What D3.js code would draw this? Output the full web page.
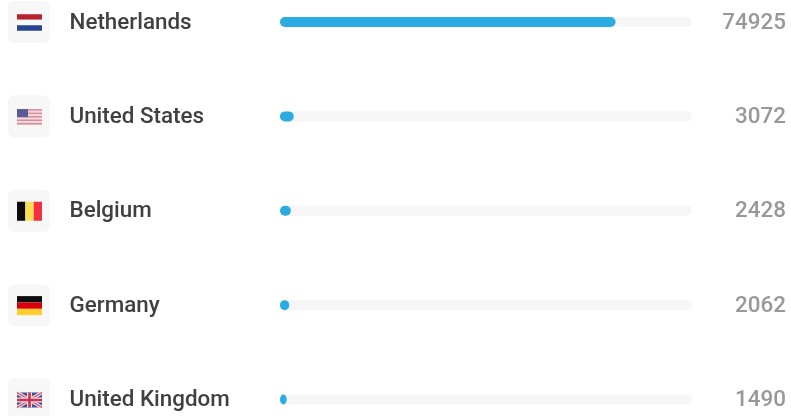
<!DOCTYPE html>
<html>
<head>
<meta charset="utf-8">
<script src="https://cdn.jsdelivr.net/npm/d3@7"></script>
<style>
html, body { margin: 0; padding: 0; background: #fff; overflow: hidden; }
text { font-family: Roboto, sans-serif; }
.country { font-size: 22.4px; font-weight: 500; fill: #404040; }
.value { font-size: 22.4px; font-weight: 500; fill: #989898; }
</style>
</head>
<body>
<script>
var countries = ["Netherlands", "United States", "Belgium", "Germany", "United Kingdom"];
var visits = [74925, 3072, 2428, 2062, 1490];
var scaleMax = 92000;

var screen2 = {width: 791, height: 416};

var svg = d3.select("body")
            .append("svg")
            .attr("width", screen2.width)
            .attr("height", screen2.height)
            .style("display", "block");

var soft = svg.append("defs").append("filter").attr("id", "soft");
soft.append("feGaussianBlur").attr("stdDeviation", 0.5);

var xScale = d3.scaleLinear()
               .domain([0, scaleMax])
               .range([280, 692]);

var yScale = d3.scalePoint()
               .domain(countries)
               .range([22, 399.5]);

var barHeight = 10;

var rows = svg.append("g")
              .attr("filter", "url(#soft)")
              .selectAll("g")
              .data(countries)
              .enter()
              .append("g")
              .attr("transform", function(d){return "translate(0," + yScale(d) + ")"});

// flag tile
rows.append("rect")
    .attr("x", 8)
    .attr("y", -21)
    .attr("width", 42)
    .attr("height", 42)
    .attr("rx", 6)
    .attr("fill", "#f7f7f7");

rows.append("text")
    .attr("class", "country")
    .attr("x", 69.5)
    .attr("y", 6.5)
    .text(function(d){return d});

// track
rows.append("rect")
    .attr("x", xScale(0))
    .attr("y", -barHeight/2)
    .attr("width", xScale(scaleMax) - xScale(0))
    .attr("height", barHeight)
    .attr("rx", 5)
    .attr("fill", "#f6f6f6");

// value bar
rows.append("rect")
    .attr("x", xScale(0))
    .attr("y", -barHeight/2)
    .attr("width", function(d, i){return xScale(visits[i]) - xScale(0)})
    .attr("height", barHeight)
    .attr("rx", 5)
    .attr("fill", "#29abe2");

rows.append("text")
    .attr("class", "value")
    .attr("x", 786)
    .attr("y", 6.5)
    .attr("text-anchor", "end")
    .text(function(d, i){return visits[i]});

// flags
var flagW = 25;
var flags = rows.append("g")
                .attr("transform", "translate(17,0.5)");

var drawStripes = function(sel, colors, vertical, h)
{
  colors.forEach(function(c, i)
  {
    var part = (vertical ? flagW : h) / colors.length;
    sel.append("rect")
       .attr("x", vertical ? i*part : 0)
       .attr("y", vertical ? -h/2 : -h/2 + i*part)
       .attr("width", vertical ? part : flagW)
       .attr("height", vertical ? h : part)
       .attr("fill", c);
  });
}

drawStripes(d3.select(flags.nodes()[0]), ["#b5222f", "#f9f9f9", "#27468f"], false, 16.5);
drawStripes(d3.select(flags.nodes()[2]), ["#0a0a0a", "#fbdf52", "#ee3040"], true, 19);
drawStripes(d3.select(flags.nodes()[3]), ["#0a0a0a", "#d8000c", "#ffce2e"], false, 19);

// US
var us = d3.select(flags.nodes()[1]);
drawStripes(us, ["#d98c99", "#f3d9dd", "#d98c99", "#f3d9dd", "#d98c99", "#f3d9dd", "#d98c99", "#f3d9dd", "#d98c99"], false, 15.5);
us.append("rect").attr("y", -7.75).attr("width", 11).attr("height", 8).attr("fill", "#565c96");

// UK
var uk = d3.select(flags.nodes()[4]);
uk.append("rect").attr("y", -7.5).attr("width", flagW).attr("height", 15).attr("fill", "#3f4f96");
uk.append("path").attr("d", "M0,-7.5L25,7.5M25,-7.5L0,7.5").attr("stroke", "#f3dfe3").attr("stroke-width", 3.5);
uk.append("path").attr("d", "M0,-7.5L25,7.5M25,-7.5L0,7.5").attr("stroke", "#cf4a63").attr("stroke-width", 1.2);
uk.append("path").attr("d", "M12.5,-7.5V7.5M0,0H25").attr("stroke", "#f3dfe3").attr("stroke-width", 5);
uk.append("path").attr("d", "M12.5,-7.5V7.5M0,0H25").attr("stroke", "#cc3350").attr("stroke-width", 2.6);
</script>
</body>
</html>
